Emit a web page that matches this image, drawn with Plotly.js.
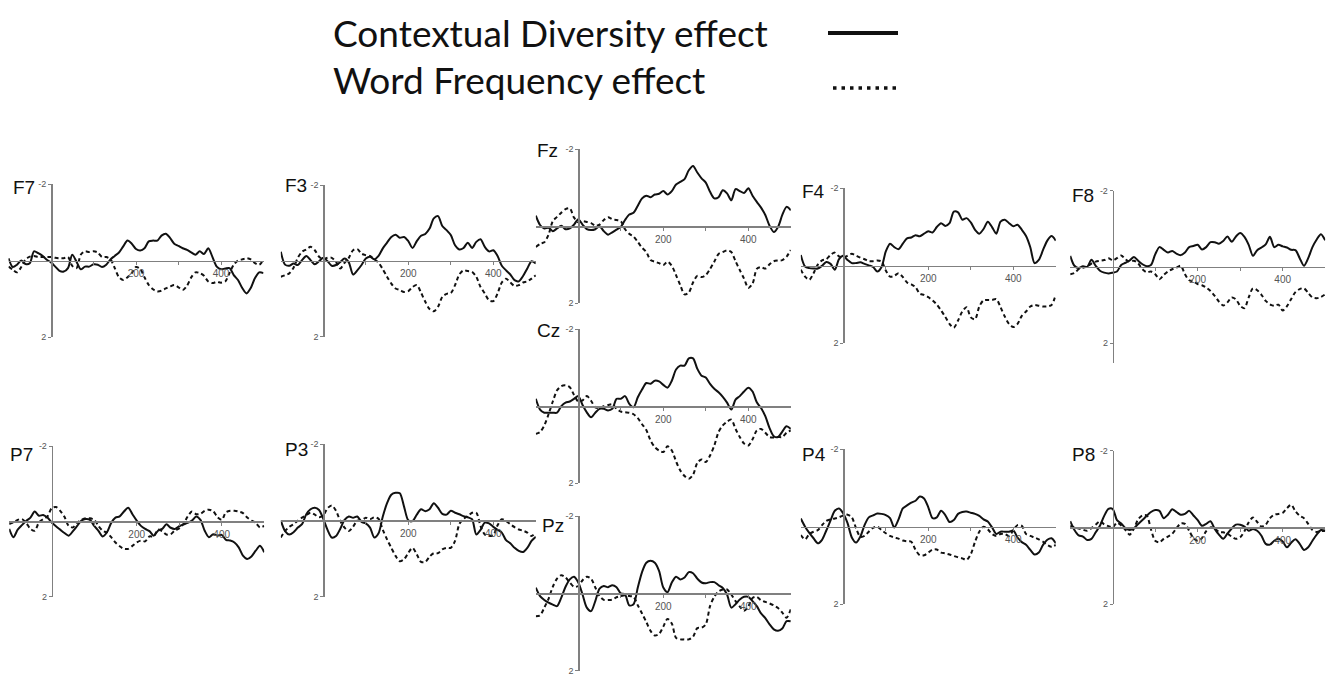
<!DOCTYPE html>
<html>
<head>
<meta charset="utf-8">
<script src="https://cdn.plot.ly/plotly-3.0.1.min.js"></script>
<style>html,body{margin:0;padding:0;background:#fff;}#chart{width:1331px;height:680px;}</style>
</head>
<body>
<div id="chart"></div>
<script>
// time points (ms)
const times = [-100,-90,-80,-70,-60,-50,-40,-30,-20,-10,0,10,20,30,40,50,60,70,80,90,100,110,120,130,140,150,160,170,180,190,200,210,220,230,240,250,260,270,280,290,300,310,320,330,340,350,360,370,380,390,400,410,420,430,440,450,460,470,480,490,500];

const seriesNames = ["Contextual Diversity effect", "Word Frequency effect"];
const electrodes = ["F7","F3","Fz","F4","F8","Cz","P7","P3","Pz","P4","P8"];
const xTickVals = [100,200,300,400];
const xTickText = ["","200","","400"];
const yTickVals = [-2,2];
const yTickText = ["-2","2"];

// Contextual Diversity effect (solid), µV, negative up
const cd_F7 = [-0.06,0.17,0.11,0.0,0.09,0.07,-0.24,-0.19,-0.12,-0.02,0.05,0.16,0.27,0.29,0.2,-0.15,0.03,0.23,0.16,0.16,0.1,0.11,0.17,0.11,-0.03,-0.12,-0.21,-0.37,-0.52,-0.44,-0.3,-0.26,-0.32,-0.5,-0.52,-0.52,-0.65,-0.7,-0.59,-0.44,-0.38,-0.32,-0.28,-0.21,-0.15,-0.24,-0.17,-0.32,-0.09,0.16,0.23,0.21,0.2,0.38,0.51,0.72,0.86,0.72,0.46,0.31,0.33];
const cd_F3 = [-0.24,0.1,0.13,0.07,0.11,-0.02,-0.13,-0.02,0.09,0.01,-0.08,0.01,0.13,0.11,0.03,-0.06,0.04,0.36,0.25,0.11,-0.06,-0.11,-0.04,-0.13,-0.33,-0.48,-0.63,-0.69,-0.61,-0.63,-0.52,-0.34,-0.52,-0.66,-0.71,-0.85,-1.12,-1.18,-0.92,-0.81,-0.68,-0.41,-0.3,-0.34,-0.48,-0.34,-0.5,-0.57,-0.37,-0.25,-0.28,-0.13,0.13,0.25,0.36,0.51,0.54,0.4,0.2,0.01,0.07];
const cd_Fz = [-0.27,-0.03,0.06,0.04,0.13,0.06,-0.01,0.08,0.06,-0.04,-0.18,-0.04,0.08,0.1,0.08,0.0,0.13,0.22,0.16,0.09,0.02,-0.16,-0.3,-0.35,-0.53,-0.72,-0.79,-0.75,-0.82,-0.84,-0.91,-0.82,-0.91,-1.08,-1.15,-1.22,-1.45,-1.56,-1.39,-1.24,-1.13,-0.89,-0.72,-0.75,-0.93,-0.85,-0.67,-0.96,-0.91,-0.86,-0.98,-0.79,-0.63,-0.48,-0.29,-0.01,0.15,0.02,-0.29,-0.5,-0.41];
const cd_F4 = [-0.28,0.02,0.06,0.07,0.07,0.0,-0.1,-0.05,0.1,-0.17,-0.26,-0.15,-0.07,-0.07,-0.09,-0.05,-0.01,0.03,0.15,0.03,-0.37,-0.57,-0.48,-0.43,-0.57,-0.71,-0.73,-0.79,-0.76,-0.83,-0.89,-0.86,-1.0,-1.1,-1.03,-1.1,-1.4,-1.38,-1.19,-1.23,-1.12,-0.93,-0.83,-0.95,-1.14,-1.0,-0.83,-1.14,-1.19,-1.1,-1.02,-1.06,-0.93,-0.77,-0.48,-0.07,-0.15,-0.41,-0.65,-0.77,-0.65];
const cd_F8 = [-0.29,-0.03,0.03,-0.02,0.0,-0.19,-0.03,0.1,0.15,0.17,0.15,0.12,-0.05,-0.11,-0.17,-0.26,-0.16,-0.07,-0.02,-0.05,-0.33,-0.52,-0.45,-0.38,-0.42,-0.35,-0.31,-0.38,-0.52,-0.55,-0.58,-0.46,-0.52,-0.65,-0.65,-0.61,-0.68,-0.8,-0.66,-0.8,-0.89,-0.79,-0.58,-0.29,-0.44,-0.51,-0.59,-0.79,-0.52,-0.58,-0.54,-0.51,-0.45,-0.44,-0.23,-0.03,-0.23,-0.52,-0.72,-0.86,-0.7];
const cd_Cz = [-0.19,0.09,0.17,0.17,0.17,0.17,0.0,-0.09,-0.12,-0.19,-0.26,-0.03,0.16,0.29,0.17,0.07,0.07,0.11,0.07,-0.19,-0.19,-0.26,-0.06,0.03,-0.23,-0.43,-0.6,-0.58,-0.66,-0.64,-0.55,-0.48,-0.66,-0.95,-1.05,-1.05,-1.24,-1.24,-0.97,-0.79,-0.74,-0.58,-0.45,-0.36,-0.24,-0.09,0.09,-0.17,-0.26,-0.38,-0.48,-0.38,-0.1,0.05,0.26,0.57,0.78,0.8,0.66,0.52,0.59];
const cd_P7 = [0.2,0.42,0.22,0.1,-0.01,-0.1,-0.26,-0.15,-0.17,-0.1,0.03,0.13,0.22,0.31,0.38,0.26,0.12,-0.02,-0.06,-0.04,0.12,0.25,0.4,0.29,0.04,-0.1,-0.13,-0.26,-0.36,-0.19,-0.02,0.12,0.2,0.26,0.38,0.25,0.2,0.08,0.17,0.2,0.13,0.08,0.04,-0.02,-0.13,-0.04,0.25,0.42,0.34,0.38,0.36,0.49,0.51,0.56,0.69,0.91,1.0,0.93,0.78,0.65,0.82];
const cd_P3 = [0.0,0.28,0.37,0.31,0.19,0.1,-0.16,-0.29,-0.33,-0.27,-0.04,0.25,0.45,0.41,0.22,-0.01,-0.1,-0.07,-0.1,0.04,0.08,0.19,0.45,0.34,-0.1,-0.45,-0.67,-0.72,-0.71,-0.36,0.0,0.02,-0.15,-0.29,-0.24,-0.29,-0.45,-0.33,-0.17,-0.15,-0.25,-0.2,-0.16,-0.11,-0.08,-0.03,0.37,0.25,0.06,0.08,0.17,0.25,0.32,0.52,0.6,0.72,0.8,0.83,0.72,0.54,0.43];
const cd_Pz = [-0.15,0.07,0.17,0.24,0.29,0.33,0.11,-0.17,-0.36,-0.43,-0.28,0.03,0.37,0.46,0.2,-0.12,-0.19,-0.16,-0.21,-0.16,0.0,0.03,0.31,0.28,-0.15,-0.55,-0.79,-0.84,-0.79,-0.58,-0.15,-0.03,-0.28,-0.43,-0.36,-0.41,-0.55,-0.52,-0.38,-0.28,-0.26,-0.29,-0.29,-0.21,-0.14,0.03,0.37,0.28,0.16,0.09,0.09,0.2,0.33,0.52,0.64,0.8,0.93,0.97,0.91,0.72,0.72];
const cd_P4 = [-0.21,0.0,0.16,0.3,0.43,0.34,0.1,-0.16,-0.41,-0.47,-0.34,-0.09,0.28,0.41,0.26,-0.04,-0.24,-0.29,-0.34,-0.33,-0.3,-0.22,0.02,-0.19,-0.47,-0.55,-0.62,-0.67,-0.78,-0.73,-0.5,-0.22,-0.24,-0.41,-0.3,-0.12,-0.17,-0.33,-0.38,-0.39,-0.36,-0.33,-0.28,-0.19,-0.13,0.02,0.19,0.13,0.13,0.13,0.1,0.28,0.4,0.47,0.6,0.72,0.67,0.47,0.34,0.3,0.43];
const cd_P8 = [-0.16,0.07,0.21,0.24,0.33,0.3,0.13,-0.04,-0.3,-0.48,-0.48,-0.19,-0.1,0.02,0.07,0.02,-0.09,-0.19,-0.3,-0.4,-0.45,-0.43,-0.24,-0.33,-0.47,-0.4,-0.33,-0.35,-0.43,-0.31,-0.19,-0.04,-0.09,-0.16,0.04,0.19,0.3,0.16,0.03,-0.07,-0.07,-0.02,0.09,0.04,0.09,0.22,0.43,0.45,0.35,0.3,0.37,0.52,0.4,0.31,0.43,0.59,0.52,0.35,0.19,0.07,0.09];

// Word Frequency effect (dotted)
const wf_F7 = [0.16,0.24,0.31,0.17,-0.03,-0.1,-0.12,-0.09,-0.09,-0.09,-0.09,-0.07,-0.06,-0.06,-0.09,0.14,0.2,-0.15,-0.24,-0.22,-0.24,-0.21,-0.09,-0.09,-0.03,0.2,0.44,0.51,0.44,0.33,0.17,0.22,0.44,0.64,0.75,0.81,0.79,0.73,0.68,0.64,0.7,0.77,0.66,0.44,0.31,0.33,0.4,0.55,0.59,0.56,0.58,0.55,0.33,0.11,0.0,-0.03,-0.06,-0.03,0.07,0.11,-0.02];
const wf_F3 = [0.42,0.38,0.33,0.18,-0.08,-0.24,-0.3,-0.37,-0.28,-0.11,-0.04,-0.08,-0.08,0.03,0.2,0.05,-0.08,-0.28,-0.31,-0.19,-0.15,-0.13,-0.04,0.05,0.22,0.42,0.6,0.73,0.77,0.82,0.8,0.69,0.64,0.84,1.08,1.27,1.33,1.21,0.95,0.87,0.85,0.64,0.36,0.25,0.27,0.29,0.42,0.69,0.86,1.04,1.06,0.86,0.57,0.47,0.57,0.66,0.64,0.57,0.54,0.47,0.38];
const wf_Fz = [0.54,0.46,0.42,0.22,-0.13,-0.24,-0.35,-0.44,-0.46,-0.22,-0.1,-0.13,-0.11,-0.08,-0.01,-0.04,-0.16,-0.23,-0.18,-0.16,-0.13,0.08,0.2,0.27,0.41,0.56,0.67,0.88,0.92,0.96,1.01,0.92,1.03,1.27,1.53,1.77,1.72,1.46,1.29,1.32,1.27,1.11,0.92,0.72,0.67,0.63,0.67,0.91,1.14,1.36,1.6,1.49,1.11,1.06,1.1,0.99,0.91,0.89,0.88,0.79,0.62];
const wf_F4 = [0.1,0.28,0.36,0.19,-0.03,-0.14,-0.17,-0.28,-0.34,-0.24,-0.22,-0.26,-0.31,-0.26,-0.21,-0.17,-0.12,-0.12,-0.14,-0.11,0.12,0.28,0.26,0.19,0.29,0.43,0.48,0.55,0.72,0.75,0.81,0.89,1.0,1.15,1.32,1.5,1.6,1.41,1.18,1.07,1.33,1.38,1.05,0.89,0.88,0.88,0.86,1.07,1.31,1.5,1.58,1.5,1.29,1.18,1.05,1.01,1.03,1.05,1.05,1.01,0.75];
const wf_F8 = [0.19,0.16,0.06,0.02,-0.01,-0.09,-0.14,-0.16,-0.18,-0.23,-0.17,-0.23,-0.3,-0.2,-0.14,-0.16,-0.09,0.06,0.14,0.12,0.19,0.32,0.21,0.12,0.06,0.02,-0.03,0.19,0.35,0.38,0.45,0.48,0.54,0.63,0.76,0.91,1.01,0.93,0.8,0.85,1.02,1.08,0.8,0.56,0.61,0.73,0.89,0.98,1.02,0.99,1.14,1.03,0.84,0.66,0.58,0.56,0.68,0.8,0.82,0.79,0.72];
const wf_Cz = [0.72,0.67,0.5,0.21,-0.12,-0.41,-0.52,-0.54,-0.49,-0.29,-0.12,-0.15,-0.26,-0.14,0.03,0.05,0.0,-0.03,-0.05,0.07,0.14,0.16,0.17,0.21,0.31,0.47,0.62,0.89,1.06,1.15,1.19,1.04,1.15,1.43,1.67,1.81,1.88,1.78,1.47,1.38,1.45,1.28,1.02,0.67,0.5,0.4,0.35,0.59,0.8,0.97,1.02,0.86,0.63,0.59,0.69,0.8,0.81,0.8,0.8,0.69,0.63];
const wf_P7 = [0.07,0.03,-0.04,-0.06,0.04,0.2,0.25,0.03,-0.06,-0.13,-0.35,-0.38,-0.28,-0.12,0.12,0.16,0.04,-0.04,-0.08,-0.08,-0.04,0.12,0.25,0.3,0.42,0.56,0.66,0.73,0.73,0.65,0.56,0.51,0.53,0.4,0.4,0.22,0.26,0.35,0.34,0.24,0.19,0.07,-0.13,-0.26,-0.19,-0.2,-0.28,-0.31,-0.27,-0.11,-0.04,-0.24,-0.28,-0.28,-0.26,-0.22,-0.1,-0.02,0.04,0.16,0.12];
const wf_P3 = [0.45,0.28,0.17,0.1,0.01,-0.07,-0.14,-0.2,-0.15,-0.08,-0.13,-0.32,-0.39,-0.25,0.02,0.19,0.28,0.17,0.01,0.0,-0.07,-0.03,-0.08,-0.04,0.25,0.5,0.72,0.93,1.07,1.02,0.85,0.72,0.89,1.09,1.09,0.95,0.86,0.86,0.76,0.72,0.72,0.54,0.1,-0.04,-0.11,-0.2,-0.2,0.15,0.37,0.41,0.39,0.13,-0.03,0.02,0.1,0.18,0.24,0.27,0.32,0.41,0.32];
const wf_Pz = [0.59,0.57,0.37,0.14,-0.17,-0.38,-0.47,-0.41,-0.28,-0.17,-0.19,-0.34,-0.43,-0.38,-0.15,0.07,0.17,0.17,0.16,0.1,0.07,0.05,0.07,0.09,0.31,0.52,0.74,0.97,1.09,1.05,0.86,0.66,0.78,1.15,1.19,1.19,1.19,1.12,0.9,0.89,0.8,0.33,0.09,-0.05,-0.1,-0.1,0.03,0.2,0.34,0.45,0.34,0.12,0.09,0.18,0.22,0.26,0.31,0.38,0.5,0.63,0.41];
const wf_P4 = [0.22,0.33,0.19,0.13,0.09,-0.04,-0.15,-0.19,-0.21,-0.24,-0.29,-0.31,-0.24,0.04,0.26,0.24,0.13,0.03,0.0,0.09,0.17,0.24,0.28,0.31,0.36,0.38,0.39,0.6,0.74,0.74,0.67,0.59,0.59,0.67,0.69,0.72,0.76,0.79,0.82,0.86,0.71,0.39,0.13,0.0,0.07,0.19,0.24,0.19,0.19,0.24,0.09,-0.04,-0.02,0.19,0.24,0.28,0.33,0.39,0.47,0.52,0.47];
const wf_P8 = [-0.04,0.0,0.03,0.06,0.09,0.02,-0.07,-0.16,-0.08,-0.03,0.0,-0.12,-0.05,0.07,0.19,0.03,-0.21,-0.31,-0.31,0.05,0.35,0.39,0.3,0.24,0.17,0.02,-0.1,-0.09,0.09,0.28,0.35,0.28,0.1,0.0,0.03,0.12,0.13,0.17,0.24,0.3,0.26,0.1,-0.13,-0.26,-0.14,-0.02,-0.07,-0.24,-0.33,-0.35,-0.38,-0.5,-0.59,-0.42,-0.3,-0.24,-0.09,0.07,0.12,0.1,0.09];

const cdSeries = [cd_F7,cd_F3,cd_Fz,cd_F4,cd_F8,cd_Cz,cd_P7,cd_P3,cd_Pz,cd_P4,cd_P8];
const wfSeries = [wf_F7,wf_F3,wf_Fz,wf_F4,wf_F8,wf_Cz,wf_P7,wf_P3,wf_Pz,wf_P4,wf_P8];

// panel placement (pixels): x of 0 ms, y of -2 and +2 µV, bottom of axis range, label position
const W = 1331, H = 680;
const place = [
  {x0:51,    top:184,   bot:337,   rb:2,    lx:11,   ly:187.5},
  {x0:323.3, top:185,   bot:336.7, rb:2,    lx:283,  ly:185.5},
  {x0:578.3, top:149,   bot:303.3, rb:2,    lx:535,  ly:150.5},
  {x0:843.3, top:188.3, bot:343.3, rb:2,    lx:800,  ly:191},
  {x0:1112.7,top:190.7, bot:363,   rb:2.52, lx:1070, ly:195.5},
  {x0:578.3, top:329,   bot:483.3, rb:2,    lx:535,  ly:330.5},
  {x0:51.7,  top:446,   bot:596.7, rb:2,    lx:8,    ly:454.5},
  {x0:323.3, top:444,   bot:596.7, rb:2,    lx:283,  ly:449.5},
  {x0:578.3, top:516,   bot:670.7, rb:2,    lx:540,  ly:525},
  {x0:843.3, top:449.3, bot:604,   rb:2,    lx:800,  ly:454.5},
  {x0:1112.7,top:450.7, bot:604,   rb:2,    lx:1070, ly:455}
];
const pxPerMs = 0.425;
const tMin = -100, tMax = 500;

const traces = [];
const layout = {
  width: W, height: H,
  margin: {l:0, r:0, t:0, b:0},
  paper_bgcolor: '#ffffff',
  plot_bgcolor: 'rgba(0,0,0,0)',
  showlegend: false,
  annotations: [],
  shapes: []
};
const axisColor = '#808080';
const yTickFont = {family: 'Liberation Sans, Arial, sans-serif', size: 9, color: '#555'};
const xTickFont = {family: 'Liberation Sans, Arial, sans-serif', size: 10, color: '#555'};

electrodes.forEach((name, i) => {
  const p = place[i];
  const n = i + 1;
  const xa = 'x' + (n === 1 ? '' : n);
  const ya = 'y' + (n === 1 ? '' : n);
  const xl = p.x0 + tMin * pxPerMs, xr = p.x0 + tMax * pxPerMs;
  const unit = (p.bot - p.top) / (p.rb + 2);
  const yd0 = 1 - p.bot / H, yd1 = 1 - p.top / H;
  const zeroPx = p.top + 2 * unit;
  layout['xaxis' + (n === 1 ? '' : n)] = {
    domain: [xl / W, xr / W], range: [tMin, tMax], anchor: 'free', position: 1 - zeroPx / H,
    showline: true, linecolor: axisColor, linewidth: 1.5, showgrid: false, zeroline: false,
    tickmode: 'array', tickvals: xTickVals, ticktext: xTickText, ticks: 'outside', ticklen: 3,
    tickcolor: axisColor, tickwidth: 1, tickfont: xTickFont, fixedrange: true
  };
  layout['yaxis' + (n === 1 ? '' : n)] = {
    domain: [yd0, yd1], range: [p.rb, -2], anchor: 'free', position: p.x0 / W,
    showline: true, linecolor: axisColor, linewidth: 1.5, showgrid: false, zeroline: false,
    tickmode: 'array', tickvals: yTickVals, ticktext: yTickText, ticks: 'outside', ticklen: 3,
    tickcolor: axisColor, tickwidth: 1, tickfont: yTickFont, fixedrange: true
  };
  traces.push({
    x: times, y: wfSeries[i], xaxis: xa, yaxis: ya, type: 'scatter', mode: 'lines',
    name: seriesNames[1], line: {color: '#111', width: 2, dash: '4px,3px', shape: 'spline', smoothing: 0.8},
    hoverinfo: 'skip'
  });
  traces.push({
    x: times, y: cdSeries[i], xaxis: xa, yaxis: ya, type: 'scatter', mode: 'lines',
    name: seriesNames[0], line: {color: '#111', width: 2, shape: 'spline', smoothing: 0.8},
    hoverinfo: 'skip'
  });
  layout.annotations.push({
    xref: 'paper', yref: 'paper', x: p.lx / W, y: 1 - p.ly / H, xanchor: 'left', yanchor: 'middle',
    text: name, showarrow: false,
    font: {family: 'Liberation Sans Narrow, Liberation Sans, Arial, sans-serif', size: 19, color: '#111'}
  });
});

// legend (text with sample lines to the right)
const legendFont = {family: 'Lato, Open Sans, sans-serif', size: 37, color: '#111'};
layout.annotations.push({xref:'paper', yref:'paper', x: 331/W, y: 1 - 32/H, xanchor:'left', yanchor:'middle',
  text: seriesNames[0], showarrow:false, font: legendFont});
layout.annotations.push({xref:'paper', yref:'paper', x: 331/W, y: 1 - 79/H, xanchor:'left', yanchor:'middle',
  text: seriesNames[1], showarrow:false, font: legendFont});
layout.shapes.push({type:'line', xref:'paper', yref:'paper', x0: 828/W, x1: 898/W, y0: 1-33/H, y1: 1-33/H,
  line:{color:'#111', width:4}});
layout.shapes.push({type:'line', xref:'paper', yref:'paper', x0: 833/W, x1: 898/W, y0: 1-88/H, y1: 1-88/H,
  line:{color:'#111', width:3.5, dash:'3.5px,5px'}});

Plotly.newPlot('chart', traces, layout, {staticPlot: true, displayModeBar: false});
</script>
</body>
</html>
